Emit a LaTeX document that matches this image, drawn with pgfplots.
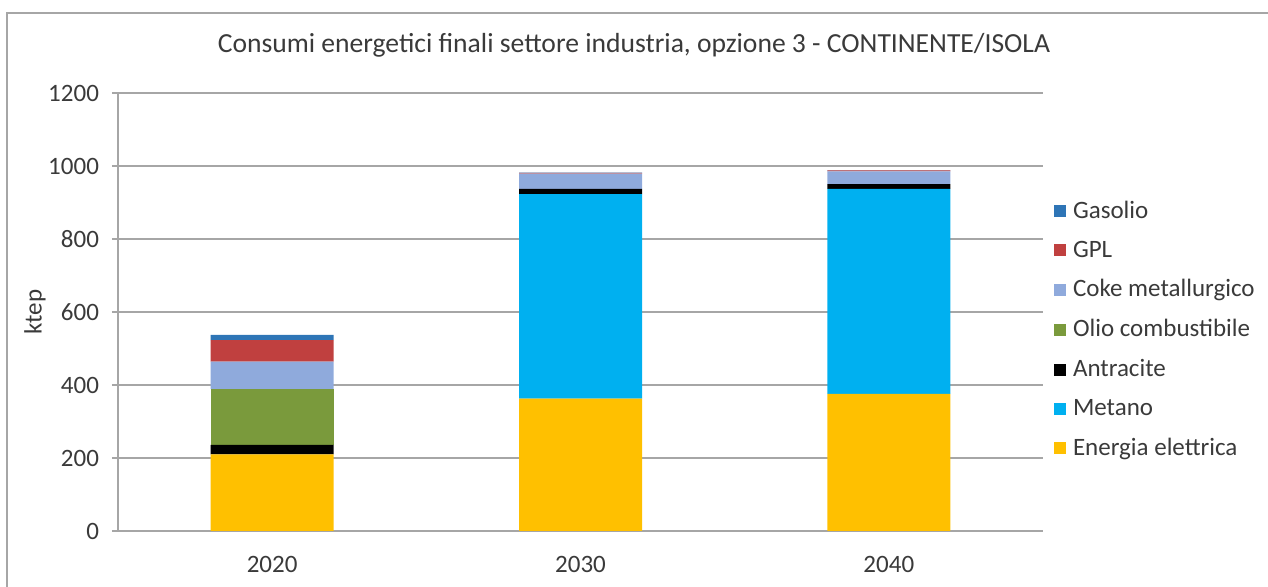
\documentclass[border=0pt]{standalone}
\usepackage{pgfplots}
\pgfplotsset{compat=1.18}
\usepackage{fontspec}
\setmainfont{Carlito}
\definecolor{cEE}{HTML}{FFC000}
\definecolor{cMet}{HTML}{00B0F0}
\definecolor{cAnt}{HTML}{000000}
\definecolor{cOlio}{HTML}{7A9A3C}
\definecolor{cCoke}{HTML}{8FAADC}
\definecolor{cGPL}{HTML}{C0403F}
\definecolor{cGas}{HTML}{2E75B6}
\definecolor{txt}{HTML}{3A3A3A}
\definecolor{gridc}{HTML}{A6A6A6}
\begin{document}
\begin{tikzpicture}[x=1pt,y=1pt]
\useasboundingbox (-59,-28) rectangle (575,265.5);
\draw[gridc, line width=1pt] (-55.5,-40) rectangle (590,259);
\node[txt, font=\fontsize{13.8}{16}\selectfont] at (258,243) {Consumi energetici finali settore industria, opzione 3 - CONTINENTE/ISOLA};
\begin{axis}[
  at={(0,0)}, anchor=south west,
  scale only axis, width=462.5pt, height=219pt,
  ybar stacked, bar width=61.5pt,
  ymin=0, ymax=1200, ytick={0,200,...,1200},
  xmin=-0.5, xmax=2.5, xtick={0,1,2}, xticklabels={2020,2030,2040},
  major x tick style={draw=none},
  extra x ticks={-0.5,0.5,1.5,2.5}, extra x tick labels={},
  extra x tick style={major tick length=3pt, tick style={gridc, line width=0.8pt}, grid=none},
  tick align=outside, major tick length=3pt,
  y tick style={gridc, line width=0.8pt},
  axis x line*=bottom, axis y line*=left,
  axis line style={gridc, line width=0.8pt},
  ymajorgrids, grid style={gridc, line width=0.8pt},
  tick label style={txt, font=\fontsize{12.5}{14}\selectfont},
  xticklabel style={yshift=-6pt},
  yticklabel style={xshift=-3pt},
  /pgf/number format/assume math mode=true,
  /pgf/number format/1000 sep={},
  ylabel={ktep},
  ylabel style={txt, font=\fontsize{12.5}{14}\selectfont, at={(axis description cs:-0.0897,0.5)}, anchor=center},
  reverse legend,
  legend cell align=left,
  legend style={at={(axis description cs:1.005,0.773)}, anchor=north west, draw=none, fill=none,
    font=\fontsize{12.5}{14}\selectfont, text=txt, row sep=5.8pt,
    /tikz/every odd column/.append style={column sep=0pt}},
  legend image code/.code={\fill[#1] (0pt,-3pt) rectangle (6pt,3pt); \path (7.5pt,0pt);},
]
\addplot[fill=cEE, draw=none] coordinates {(0,210) (1,363) (2,376)};
\addlegendentry{Energia elettrica}
\addplot[fill=cMet, draw=none] coordinates {(0,0) (1,560) (2,561)};
\addlegendentry{Metano}
\addplot[fill=cAnt, draw=none] coordinates {(0,26) (1,14) (2,13)};
\addlegendentry{Antracite}
\addplot[fill=cOlio, draw=none] coordinates {(0,153) (1,0) (2,0)};
\addlegendentry{Olio combustibile}
\addplot[fill=cCoke, draw=none] coordinates {(0,75) (1,42) (2,35)};
\addlegendentry{Coke metallurgico}
\addplot[fill=cGPL, draw=none] coordinates {(0,59) (1,2) (2,3)};
\addlegendentry{GPL}
\addplot[fill=cGas, draw=none] coordinates {(0,14) (1,1) (2,1)};
\addlegendentry{Gasolio}
\end{axis}
\end{tikzpicture}
\end{document}
